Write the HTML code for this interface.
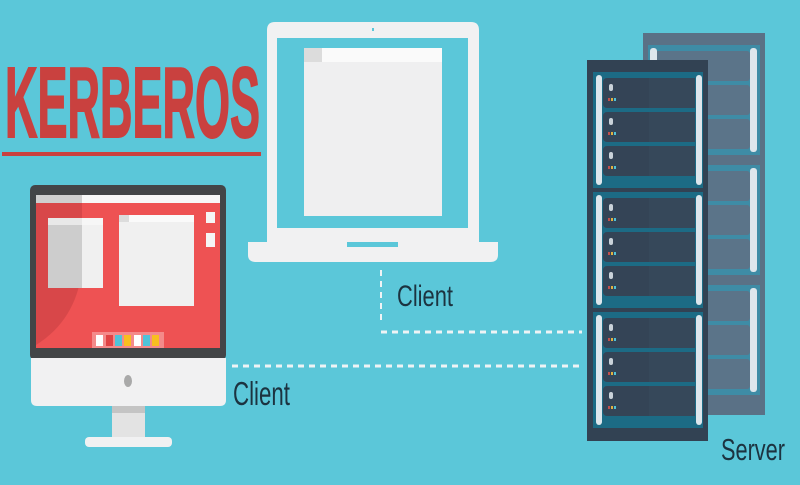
<!DOCTYPE html>
<html><head><meta charset="utf-8"><style>
html,body{margin:0;padding:0;background:#5bc7d9;}
svg{display:block}
text{font-family:"Liberation Sans Narrow","Liberation Sans",sans-serif;}
</style></head><body>
<svg width="800" height="485" viewBox="0 0 800 485" xmlns="http://www.w3.org/2000/svg">
<rect width="800" height="485" fill="#5bc7d9"/>
<!-- Title -->
<text x="5" y="137" font-size="100" font-weight="bold" fill="#c9413f" stroke="#c9413f" stroke-width="2" textLength="255" lengthAdjust="spacingAndGlyphs">KERBEROS</text>
<rect x="2" y="152" width="259" height="4" fill="#c9413f"/>

<!-- Laptop -->
<path d="M267 242 V30 Q267 22 275 22 H471 Q479 22 479 30 V242 Z" fill="#f1f1f2"/>
<rect x="277" y="38" width="191" height="190" fill="#5bc7d9"/>
<rect x="304" y="48" width="138" height="168" fill="#efeff0"/>
<rect x="304" y="48" width="138" height="14" fill="#fafafa"/>
<rect x="304" y="48" width="18" height="14" fill="#dcdcdc"/>
<rect x="372" y="28" width="2" height="3" fill="#5bc7d9"/>
<path d="M248 242 H498 V255 Q498 262 490 262 H256 Q248 262 248 255 Z" fill="#f1f1f2"/>
<rect x="347" y="242" width="51" height="5" fill="#5bc7d9"/>

<!-- Dashed connectors -->
<line x1="381" y1="270" x2="381" y2="320" stroke="#eef3f5" stroke-width="2" stroke-dasharray="6,5"/>
<line x1="381" y1="332" x2="582" y2="332" stroke="#eef3f5" stroke-width="3" stroke-dasharray="6,5"/>
<line x1="232" y1="366" x2="582" y2="366" stroke="#eef3f5" stroke-width="3" stroke-dasharray="6,5"/>
<text x="397" y="306" font-size="30" fill="#1c3340" textLength="56" lengthAdjust="spacingAndGlyphs">Client</text>
<text x="233" y="405" font-size="33" fill="#1c3340" textLength="57" lengthAdjust="spacingAndGlyphs">Client</text>
<text x="721" y="460" font-size="31" fill="#1c3340" textLength="64" lengthAdjust="spacingAndGlyphs">Server</text>

<!-- iMac -->
<rect x="30" y="185" width="196" height="175" rx="5" fill="#434547"/>
<rect x="36" y="195" width="184" height="153" fill="#ee5253"/>
<path d="M36 195 H82 V270 Q76 320 36 345 Z" fill="#c94142" opacity="0.6"/>
<rect x="36" y="195" width="184" height="8" fill="#f7f7f7"/>
<rect x="36" y="195" width="46" height="8" fill="#cfcfcf"/>
<rect x="48" y="218" width="55" height="70" fill="#f0f0f0"/>
<rect x="48" y="218" width="34" height="70" fill="#cdcdcd"/>
<rect x="48" y="218" width="55" height="7" fill="#fafafa" opacity="0.6"/>
<rect x="119" y="215" width="75" height="91" fill="#f0f0f0"/>
<rect x="119" y="215" width="75" height="7" fill="#fafafa"/>
<rect x="119" y="215" width="10" height="7" fill="#dcdcdc"/>
<rect x="206" y="212" width="9" height="11" fill="#f5f5f5"/>
<rect x="206" y="233" width="9" height="14" fill="#f5f5f5"/>
<rect x="92" y="332" width="72" height="16" fill="#f48a8a"/>
<rect x="96" y="335" width="7" height="11" fill="#fff"/>
<rect x="106" y="335" width="7" height="11" fill="#e04344"/>
<rect x="115" y="335" width="7" height="11" fill="#4fc3d8"/>
<rect x="124" y="335" width="7" height="11" fill="#f8be1f"/>
<rect x="134" y="335" width="7" height="11" fill="#fff"/>
<rect x="143" y="335" width="7" height="11" fill="#4fc3d8"/>
<rect x="152" y="335" width="7" height="11" fill="#f8be1f"/>
<path d="M31 358 H226 V400 Q226 406 220 406 H37 Q31 406 31 400 Z" fill="#f1f1f2"/>
<ellipse cx="128" cy="381" rx="4" ry="6" fill="#a9a9a9"/>
<rect x="112" y="406" width="33" height="31" fill="#e3e3e3"/>
<rect x="112" y="406" width="33" height="7" fill="#c4c4c4"/>
<rect x="85" y="437" width="87" height="10" rx="4" fill="#f1f1f2"/>

<g id="back"></g>
<g id="front"></g>
</svg>
<script>
(function(){
var ns="http://www.w3.org/2000/svg";
function r(g,x,y,w,h,f,rx){var e=document.createElementNS(ns,"rect");e.setAttribute("x",x);e.setAttribute("y",y);e.setAttribute("width",w);e.setAttribute("height",h);e.setAttribute("fill",f);if(rx)e.setAttribute("rx",rx);g.appendChild(e);}
var b=document.getElementById("back");
r(b,643,33,122,382,"#5a7186");
[45,165,285].forEach(function(y){
 r(b,648,y,112,110,"#3e8ca6");
 for(var i=0;i<3;i++){r(b,654,y+6+i*34,96,30,"#5b7489",3);}
 r(b,750,y+3,7,104,"#dde6ec",3);
 r(b,650,y+3,7,104,"#dde6ec",3);
});
var f=document.getElementById("front");
r(f,587,60,121,381,"#324253");
[72,192,312].forEach(function(y){
 r(f,593,y,110,116,"#1c6b85");
 for(var i=0;i<3;i++){
  var uy=y+6+i*34;
  r(f,603,uy,92,30,"#344456",4);
  r(f,649,uy,46,30,"#36485a");
  r(f,609,uy+6,4,7,"#c9d2d9",2);
  r(f,608,uy+20,2,3,"#c0504d");r(f,611,uy+20,2,3,"#e0b040");r(f,614,uy+20,2,3,"#4fc3d8");
 }
 r(f,596,y+3,6,110,"#dde6ec",3);
 r(f,696,y+3,6,110,"#dde6ec",3);
});
})();
</script>
</body></html>
